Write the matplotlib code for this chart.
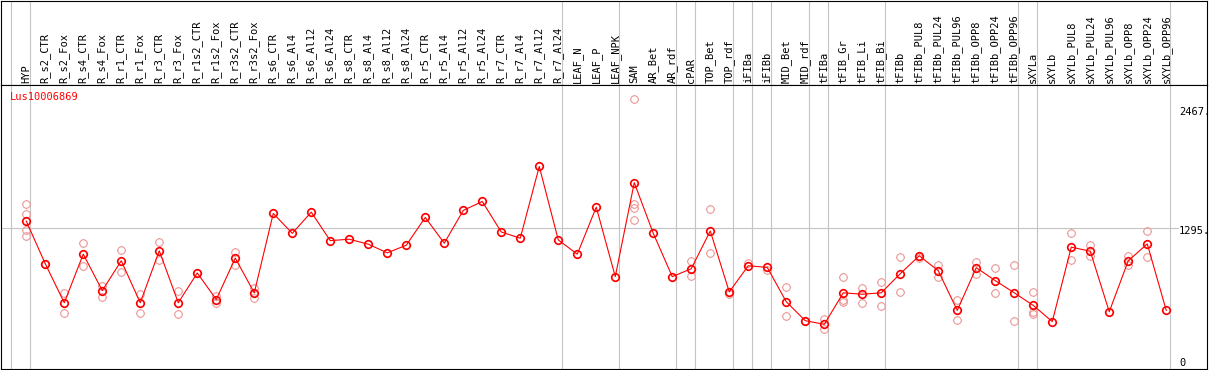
"""Expression profile of Lus10006869 across samples."""

import matplotlib

matplotlib.use("Agg")
import matplotlib.pyplot as plt
import matplotlib.transforms as mtransforms
from matplotlib.path import Path

samples = [
    "HYP", "R_s2_CTR", "R_s2_Fox", "R_s4_CTR", "R_s4_Fox", "R_r1_CTR",
    "R_r1_Fox", "R_r3_CTR", "R_r3_Fox", "R_r1s2_CTR", "R_r1s2_Fox",
    "R_r3s2_CTR", "R_r3s2_Fox", "R_s6_CTR", "R_s6_Al4", "R_s6_Al12",
    "R_s6_Al24", "R_s8_CTR", "R_s8_Al4", "R_s8_Al12", "R_s8_Al24",
    "R_r5_CTR", "R_r5_Al4", "R_r5_Al12", "R_r5_Al24", "R_r7_CTR",
    "R_r7_Al4", "R_r7_Al12", "R_r7_Al24", "LEAF_N", "LEAF_P", "LEAF_NPK",
    "SAM", "AR_Bet", "AR_rdf", "cPAR", "TOP_Bet", "TOP_rdf", "iFIBa",
    "iFIBb", "MID_Bet", "MID_rdf", "tFIBa", "tFIB_Gr", "tFIB_Li", "tFIB_Bi",
    "tFIBb", "tFIBb_PUL8", "tFIBb_PUL24", "tFIBb_PUL96", "tFIBb_OPP8",
    "tFIBb_OPP24", "tFIBb_OPP96", "sXYLa", "sXYLb", "sXYLb_PUL8",
    "sXYLb_PUL24", "sXYLb_PUL96", "sXYLb_OPP8", "sXYLb_OPP24", "sXYLb_OPP96",
]

mean_expr = [
    1366, 947, 563, 1041, 683, 976, 563, 1074, 563, 856, 595, 1002, 661,
    1441, 1246, 1454, 1174, 1188, 1139, 1054, 1129, 1402, 1149, 1471, 1559,
    1259, 1198, 1903, 1181, 1041, 1503, 820, 1744, 1246, 820, 898, 1269,
    670, 927, 911, 573, 387, 351, 661, 647, 661, 849, 1025, 878, 488, 908,
    781, 661, 537, 378, 1110, 1070, 475, 976, 1142, 488,
]

replicates = [
    [1532, 1435, 1279, 1220], [947], [661, 465], [1149, 924], [732, 618],
    [1083, 866], [654, 465], [1158, 979], [680, 449], [856], [634, 556],
    [1064, 930], [712, 608], [], [], [], [], [], [], [], [], [], [], [], [],
    [], [], [], [], [], [], [], [2567, 1539, 1490, 1376], [], [],
    [976, 827], [1481, 1051], [651], [950], [882], [719, 429], [380],
    [400, 303], [817, 595, 569], [709, 563], [764, 530], [1012, 673],
    [1002], [930, 817], [586, 390], [960, 849], [905, 661], [934, 387],
    [670, 475, 452], [], [1249, 979], [1132, 1018], [], [1018, 930],
    [1266, 1012], [],
]

# index of the last sample in each group (-1 = left edge of first group)
group_ends = [-1, 0, 28, 31, 34, 35, 37, 38, 39, 41, 42, 45, 52, 53, 60]

gene = "Lus10006869"
scale_values = [2467, 1295, 0]
scale_labels = ["2467.", "1295.", "0"]

W, H = 1209, 370
fig = plt.figure(figsize=(W / 100, H / 100), dpi=100)
left = 1 / W
width = 1206.3 / W
head_bottom = (H - 85) / H
ax_h = fig.add_axes([left, head_bottom, width, 1 - head_bottom - 0.5 / H])
ax = fig.add_axes([left, 1 / H, width, head_bottom - 1 / H], sharex=ax_h)

xs = list(range(len(samples)))
ax.set_xlim(-1.33, 62.16)
ax.set_ylim(-88, 2704)
ax_h.set_ylim(0, 1)

for a in (ax, ax_h):
    a.set_xticks([])
    a.set_yticks([])
    for sp in a.spines.values():
        sp.set_color("black")
        sp.set_linewidth(0.8)
    for g in group_ends:
        a.axvline(g + 0.21, color="#c4c4c4", lw=0.8, zorder=0)

ax.axhline(1295, xmin=0, xmax=0.9757, color="#c4c4c4", lw=0.8, zorder=0)

# circle with four tiny nubs, like the original markers
circ = Path.unit_circle()
verts = list(circ.vertices)
codes = list(circ.codes)
for dx, dy in [(0, 1), (0, -1), (1, 0), (-1, 0)]:
    verts += [(dx, dy), (dx * 1.22, dy * 1.22)]
    codes += [Path.MOVETO, Path.LINETO]
tick_circle = Path(verts, codes)

rep_x, rep_y = [], []
for i, reps in enumerate(replicates):
    for v in reps:
        rep_x.append(i)
        rep_y.append(v)

ax.plot(rep_x, rep_y, ls="none", marker=tick_circle, ms=6.6,
        mfc="none", mec="#ec9a9a", mew=0.8, zorder=2)
ax.plot(xs, mean_expr, color="red", lw=0.8, marker=tick_circle, ms=6.6,
        mfc="none", mec="red", mew=1.2, zorder=3)

for i, name in enumerate(samples):
    ax_h.text(i, 0.025, name, rotation=90, ha="center", va="bottom",
              fontsize=7.5, family="DejaVu Sans Mono")

ax.text(9 / 1206.3, 1 - 12.5 / 284, gene, transform=ax.transAxes,
        ha="left", va="center", color="red", fontsize=7.5,
        family="DejaVu Sans Mono")

lab_tr = mtransforms.offset_copy(
    mtransforms.blended_transform_factory(ax.transAxes, ax.transData),
    fig=fig, y=-3, units="dots")
for v, s in zip(scale_values, scale_labels):
    ax.text(1178 / 1206.3, v, s, transform=lab_tr, ha="left", va="center",
            fontsize=7.5, family="DejaVu Sans Mono")

fig.savefig("out.png", dpi=100)
plt.close()
